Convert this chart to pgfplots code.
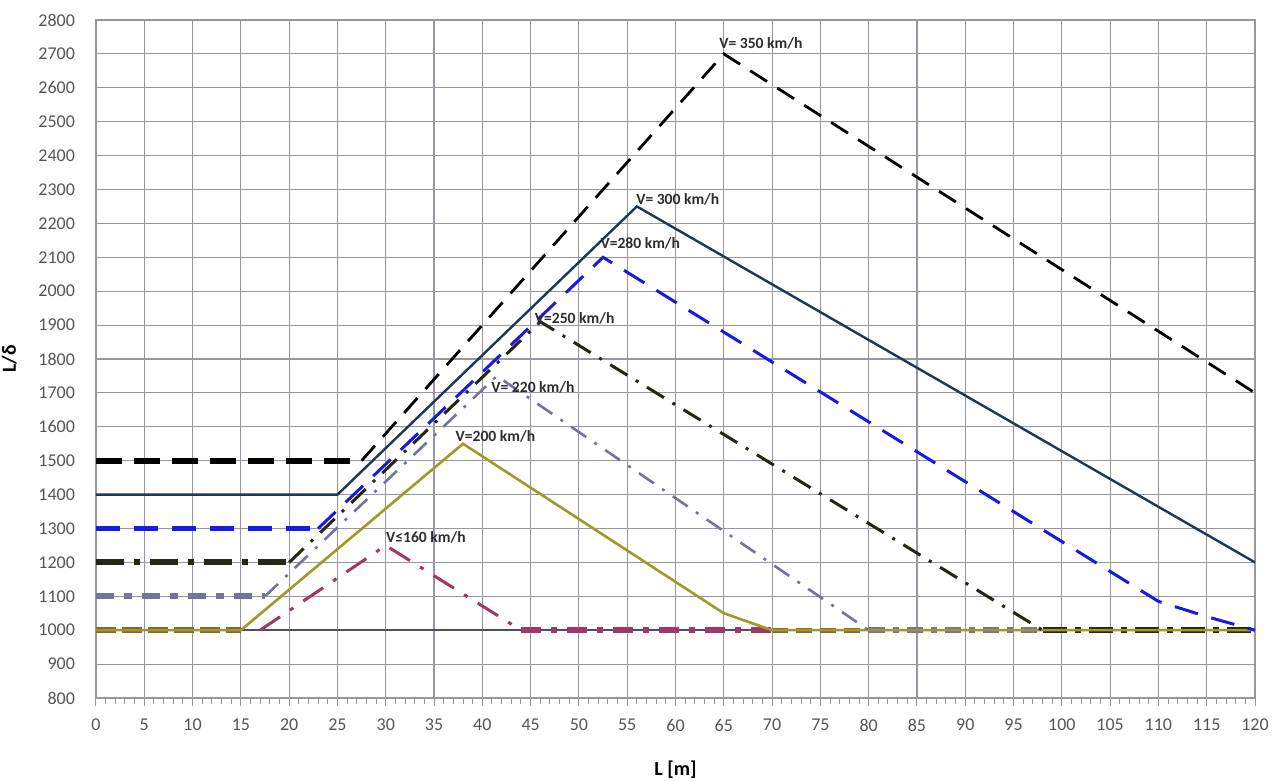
\documentclass[border=0pt]{standalone}
\usepackage{fontspec}
\setmainfont{Carlito}
\usepackage{pgfplots}
\pgfplotsset{compat=1.18}
\definecolor{gridc}{RGB}{150,150,165}
\definecolor{tickc}{RGB}{85,85,85}
\definecolor{c300}{RGB}{30,55,85}
\definecolor{c280}{RGB}{25,25,225}
\definecolor{c250}{RGB}{38,38,20}
\definecolor{c220}{RGB}{115,115,155}
\definecolor{c200}{RGB}{155,155,40}
\definecolor{c160}{RGB}{160,55,100}
\definecolor{cbase}{RGB}{75,75,120}
\definecolor{cbrown}{RGB}{138,100,50}
\definecolor{labc}{RGB}{45,45,45}
\begin{document}
\begin{tikzpicture}
\begin{axis}[
  scale only axis,
  width=579.5pt, height=339pt,
  xmin=0, xmax=120, ymin=800, ymax=2800,
  xtick={0,5,...,120}, ytick={800,900,...,2800},
  minor x tick num=4,
  xtick pos=bottom, ytick pos=left,
  grid=major,
  major grid style={draw=gridc, line width=0.55pt},
  axis line style={draw=gridc, line width=0.6pt},
  tick style={draw=gridc, line width=0.5pt},
  tick align=outside,
  major tick length=4pt, minor tick length=3pt,
  ytick style={draw=none},
  every x tick label/.append style={font=\fontsize{9}{10}\selectfont, text=tickc, yshift=-3pt},
  every y tick label/.append style={font=\fontsize{9}{10}\selectfont, text=tickc, xshift=-3pt},
  /pgf/number format/assume math mode=true,
  /pgf/number format/1000 sep={},
  xlabel={\textbf{L [m]}},
  ylabel={\textbf{L/δ}},
  xlabel style={font=\fontsize{10}{12}\selectfont, yshift=-8pt},
  ylabel style={font=\fontsize{10}{12}\selectfont, yshift=4pt},
]
\coordinate (sw) at (rel axis cs:0,0);
\coordinate (ne) at (rel axis cs:1,1);
% baseline at 1000
\addplot[cbase, line width=0.8pt] coordinates {(0,1000) (120,1000)};
% thick flat segments
\addplot[black, line width=3pt, dash pattern=on 13pt off 6pt] coordinates {(0,1500) (27,1500)};
\addplot[c280, line width=2.2pt, dash pattern=on 12pt off 7pt] coordinates {(0,1300) (23,1300)};
\addplot[c250, line width=3pt, dash pattern=on 14pt off 5pt on 3pt off 5pt] coordinates {(0,1200) (20,1200)};
\addplot[c220, line width=3pt, dash pattern=on 9pt off 5pt on 4pt off 5pt] coordinates {(0,1100) (17.5,1100)};
\addplot[cbrown, line width=3pt, dash pattern=on 10pt off 3pt] coordinates {(0,1000) (15,1000)};
\addplot[c160, line width=3pt, dash pattern=on 10pt off 5pt on 3pt off 5pt] coordinates {(44,1000) (70,1000)};
\addplot[cbrown, line width=2.5pt, dash pattern=on 8pt off 4pt] coordinates {(70,1000) (80,1000)};
\addplot[c220, line width=3pt, dash pattern=on 8pt off 4pt on 3pt off 4pt] coordinates {(80,1000) (100,1000)};
\addplot[c250, line width=3pt, dash pattern=on 12pt off 4pt on 3pt off 4pt] coordinates {(98,1000) (120,1000)};
% main lines
\addplot[c160, line width=1.5pt, dash pattern=on 12pt off 6pt on 2pt off 6pt] coordinates {(17,1000) (30,1250) (44,1000)};
\addplot[c200, line width=1.3pt] coordinates {(0,1000) (15,1000) (38,1550) (65,1050) (70,1000) (120,1000)};
\addplot[c220, line width=1.3pt, dash pattern=on 9pt off 5pt on 1.5pt off 5pt] coordinates {(17.5,1100) (41.5,1750) (80,1000)};
\addplot[c250, line width=1.5pt, dash pattern=on 10pt off 5pt on 1.5pt off 5pt] coordinates {(20,1200) (46,1910) (98,1000)};
\addplot[c280, line width=1.5pt, dash pattern=on 12pt off 7pt] coordinates {(23,1300) (52.5,2100) (110,1085) (115,1040) (120,1000)};
\addplot[c300, line width=1.2pt] coordinates {(0,1400) (25,1400) (56,2250) (120,1200)};
\addplot[black, line width=1.4pt, dash pattern=on 10pt off 6pt] coordinates {(27.5,1500) (65,2700) (120,1700)};
% annotations
\begin{scope}[every node/.style={font=\fontsize{7.8}{8}\selectfont\bfseries, text=labc, anchor=west, inner sep=0pt}]
\node at (axis cs:64.5,2730) {V= 350 km/h};
\node at (axis cs:55.9,2272) {V= 300 km/h};
\node at (axis cs:52.2,2142) {V=280 km/h};
\node at (axis cs:45.4,1921) {V=250 km/h};
\node at (axis cs:40.9,1717) {V= 220 km/h};
\node at (axis cs:37.2,1573) {V=200 km/h};
\node at (axis cs:30.0,1275) {V≤160 km/h};
\end{scope}
\end{axis}
\pgfresetboundingbox
\path[use as bounding box] ([shift={(-48pt,-41.5pt)}]sw) rectangle ([shift={(9.5pt,10pt)}]ne);
\end{tikzpicture}
\end{document}
